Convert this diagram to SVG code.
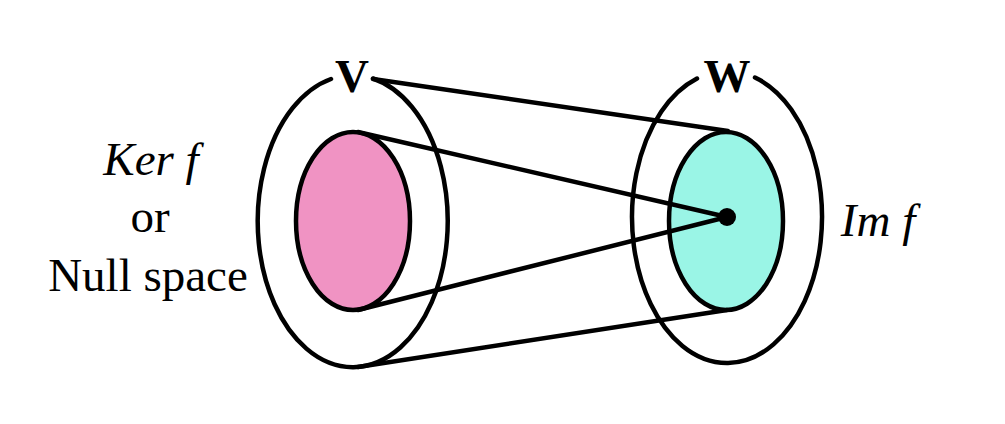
<svg xmlns="http://www.w3.org/2000/svg" width="1005" height="424" viewBox="0 0 1005 424">
<style>
.ln{fill:none;stroke:#000;stroke-width:4.5;stroke-linecap:round}
.t{font-family:"Liberation Serif","Times New Roman",serif;font-size:47px;fill:#000;text-anchor:middle}
.b{font-weight:bold;font-size:47px}
.i{font-style:italic}
</style>
<rect width="1005" height="424" fill="#fff"/>
<g id="V">
<path class="ln" d="M 373 78.5 A 95 146 0 1 1 331 79"/>
<text class="t b" x="352" y="92">V</text>
</g>
<g id="kernel">
<ellipse cx="353" cy="221" rx="57" ry="89" fill="#f093c3" stroke="#000" stroke-width="4.5"/>
</g>
<g id="W">
<path class="ln" d="M 755 77.5 A 95 146 0 1 1 697 78.5"/>
<text class="t b" x="727" y="92">W</text>
</g>
<g id="image">
<ellipse cx="726" cy="221" rx="57" ry="89" fill="#9af5e6" stroke="#000" stroke-width="4.5"/>
</g>
<g id="connectors">
<line class="ln" x1="373" y1="79" x2="728" y2="131"/>
<line class="ln" x1="358" y1="132" x2="727" y2="217"/>
<line class="ln" x1="358" y1="310" x2="727" y2="217"/>
<line class="ln" x1="358" y1="367" x2="727" y2="310"/>
</g>
<g id="dot"><circle cx="727" cy="217" r="9" fill="#000"/></g>
<g id="labels">
<text class="t i" x="151" y="175">Ker f</text>
<text class="t" x="150" y="232">or</text>
<text class="t" x="148" y="291">Null space</text>
<text class="t i" x="878" y="236">Im f</text>
</g>
</svg>
